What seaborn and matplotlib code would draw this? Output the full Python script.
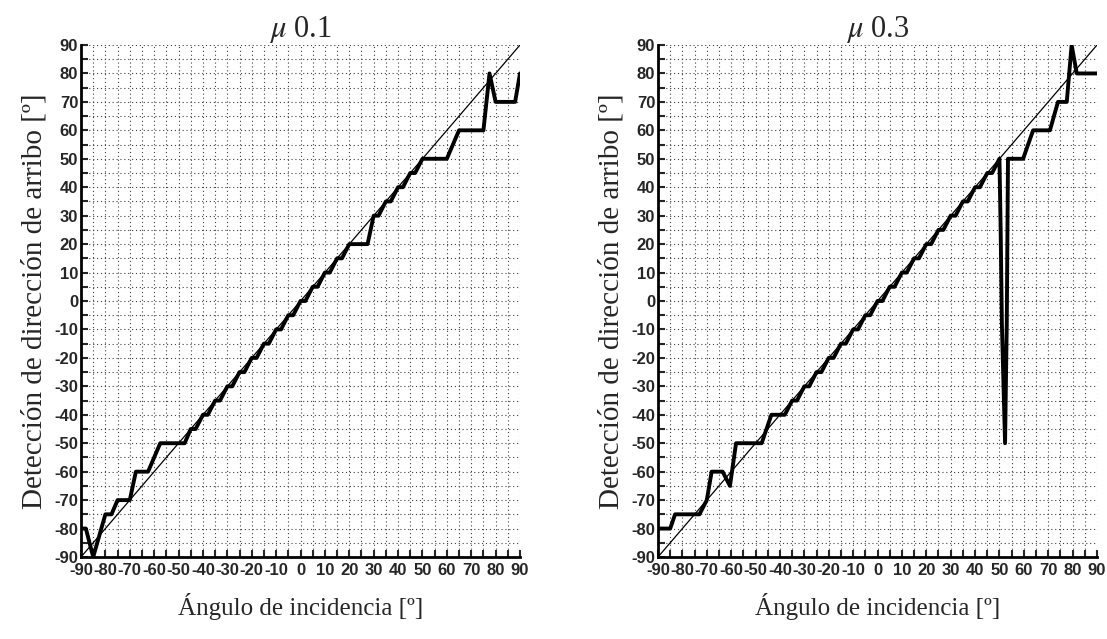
import numpy as np
import pandas as pd
import matplotlib.pyplot as plt
import seaborn as sns
from matplotlib.ticker import MultipleLocator

# ideal response (thin diagonal)
diag = [-90, 90]

# mu 0.1 - detected direction vs incidence angle
x_mu1 = [-90, -88, -85, -80, -77.5, -75, -70, -67.5, -62.5, -57.5, -47.5,
         -45, -43, -40, -38, -35, -33, -30, -28, -25, -23, -20, -18, -15, -13,
         -10, -8, -5, -3, 0, 2, 5, 7, 10, 12, 15, 17, 20, 27.5, 30, 32, 35, 37,
         40, 42, 45, 47, 50, 60, 65, 75, 77.5, 80, 88, 90]
y_mu1 = [-80, -80, -90, -75, -75, -70, -70, -60, -60, -50, -50,
         -45, -45, -40, -40, -35, -35, -30, -30, -25, -25, -20, -20, -15, -15,
         -10, -10, -5, -5, 0, 0, 5, 5, 10, 10, 15, 15, 20, 20, 30, 30, 35, 35,
         40, 40, 45, 45, 50, 50, 60, 60, 80, 70, 70, 80]

# mu 0.3
x_mu3 = [-90, -85, -83, -73, -70, -68, -63.5, -60.5, -58, -47.5, -43.5, -38,
         -35, -33, -30, -28, -25, -23, -20, -18, -15, -13, -10, -8, -5, -3,
         0, 2, 5, 7, 10, 12, 15, 17, 20, 22, 25, 27, 30, 32, 35, 37, 40, 42,
         45, 47, 50, 50.5, 51, 52.3, 53, 53.5, 59.7, 63.8, 70.7, 74, 77.6,
         79.6, 81.7, 90]
y_mu3 = [-80, -80, -75, -75, -70, -60, -60, -65, -50, -50, -40, -40,
         -35, -35, -30, -30, -25, -25, -20, -20, -15, -15, -10, -10, -5, -5,
         0, 0, 5, 5, 10, 10, 15, 15, 20, 20, 25, 25, 30, 30, 35, 35, 40, 40,
         45, 45, 50, 25, -8, -50, -8, 50, 50, 60, 60, 70, 70,
         90, 80, 80]

titles = [r"$\mu$ 0.1", r"$\mu$ 0.3"]

sns.set_style("white")
plt.rcParams['font.family'] = ['Liberation Sans', 'DejaVu Sans']
plt.rcParams['mathtext.fontset'] = 'stix'
plt.rcParams['axes.unicode_minus'] = False

fig = plt.figure(figsize=(11.07, 6.39), dpi=100)
ax1 = fig.add_axes([81/1107, 82/639, 439/1107, 512/639])
ax2 = fig.add_axes([658/1107, 82/639, 439/1107, 512/639])

for ax, xs, ys, t in [(ax1, x_mu1, y_mu1, titles[0]), (ax2, x_mu3, y_mu3, titles[1])]:
    sns.lineplot(x=diag, y=diag, ax=ax, color="black", lw=0.9)
    sns.lineplot(x=xs, y=ys, ax=ax, color="black", lw=2.8, sort=False, estimator=None)
    ax.set_xlim(-90, 90)
    ax.set_ylim(-90, 90)
    ax.xaxis.set_major_locator(MultipleLocator(10))
    ax.yaxis.set_major_locator(MultipleLocator(10))
    ax.xaxis.set_minor_locator(MultipleLocator(5))
    ax.yaxis.set_minor_locator(MultipleLocator(5))
    ax.set_axisbelow(True)
    ax.grid(which="both", ls=(0, (1, 2.5)), color="0.25", lw=0.8)
    for s in ["top", "right"]:
        ax.spines[s].set_visible(False)
    for s in ["left", "bottom"]:
        ax.spines[s].set_linewidth(2)
        ax.spines[s].set_color("black")
    ax.tick_params(which="both", direction="in", length=5, width=1.5,
                   labelsize=12, left=True, bottom=True)
    ax.tick_params(axis="x", pad=4)
    ax.tick_params(axis="y", pad=2)
    for lab in ax.get_xticklabels() + ax.get_yticklabels():
        lab.set_fontweight("bold")
    ax.set_title(t, fontsize=22, family="Liberation Serif", pad=4)
    ax.set_xlabel("Ángulo de incidencia [º]", fontsize=18,
                  family="Liberation Serif", labelpad=11)
    ax.set_ylabel("Detección de dirección de arribo [º]", fontsize=21,
                  family="Liberation Serif", labelpad=5)

plt.savefig("out.png", dpi=100)
